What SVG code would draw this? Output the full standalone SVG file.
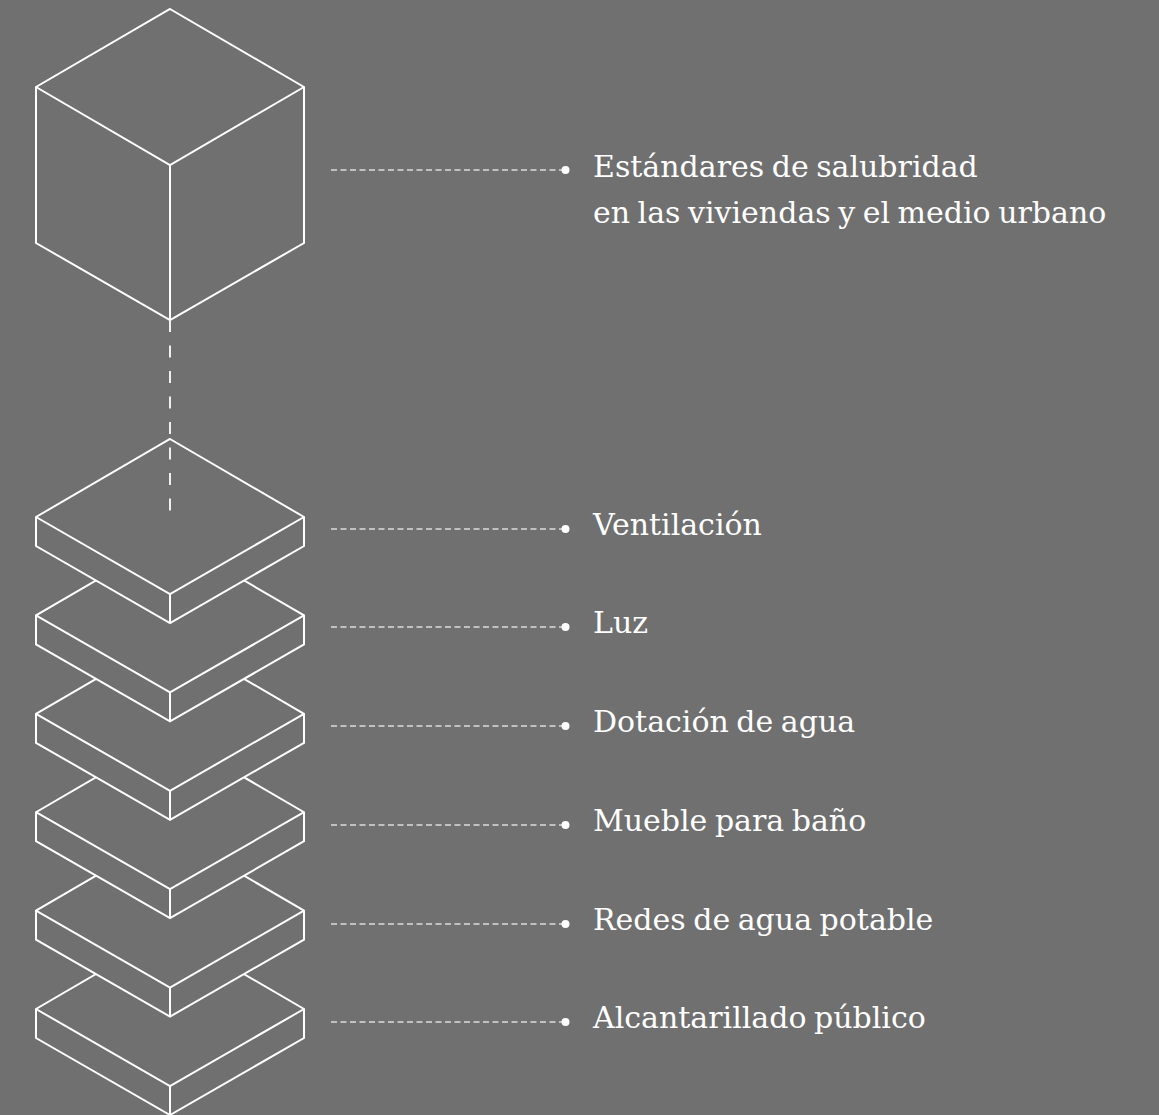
<svg xmlns="http://www.w3.org/2000/svg" width="1159" height="1115" viewBox="0 0 1159 1115">
<style>
.edge{fill:#6f706f;stroke:#ffffff;stroke-width:2;stroke-linejoin:miter}
.ln{fill:none;stroke:#ffffff;stroke-width:2}
.lead{fill:none;stroke:#dcdcdc;stroke-width:1.4;stroke-dasharray:6 3.5}
.vdash{fill:none;stroke:#f0f0f0;stroke-width:2;stroke-dasharray:12 13.5}
.dot{fill:#ffffff}
.lbl{font-family:"DejaVu Serif",serif;font-size:30px;fill:#ffffff;word-spacing:-2px}
</style>
<defs>
<g id="slab">
<polygon class="edge" points="170,-78 304,0 304,29 170,106 36,29 36,0"/>
<polyline class="ln" points="36,0 170,77 304,0"/>
<line class="ln" x1="170" y1="77" x2="170" y2="106"/>
</g>
</defs>
<rect x="0" y="0" width="1159" height="1115" fill="#6f706f"/>
<g id="slabs">
<g id="slab6"><use href="#slab" transform="translate(0,1009)"/></g>
<g id="slab5"><use href="#slab" transform="translate(0,910.6)"/></g>
<g id="slab4"><use href="#slab" transform="translate(0,812.2)"/></g>
<g id="slab3"><use href="#slab" transform="translate(0,713.8)"/></g>
<g id="slab2"><use href="#slab" transform="translate(0,615.4)"/></g>
<g id="slab1"><use href="#slab" transform="translate(0,517)"/></g>
</g>
<g id="cube">
<polygon class="edge" points="170,9 304,87 304,243 170,320 36,243 36,87"/>
<polyline class="ln" points="36,87 170,165 304,87"/>
<line class="ln" x1="170" y1="165" x2="170" y2="320"/>
</g>
<g id="connectors">
<line class="vdash" x1="170" y1="320" x2="170" y2="511"/>
<line class="lead" x1="331" y1="170" x2="562" y2="170"/>
<line class="lead" x1="331" y1="529" x2="562" y2="529"/>
<line class="lead" x1="331" y1="627" x2="562" y2="627"/>
<line class="lead" x1="331" y1="726" x2="562" y2="726"/>
<line class="lead" x1="331" y1="825" x2="562" y2="825"/>
<line class="lead" x1="331" y1="924" x2="562" y2="924"/>
<line class="lead" x1="331" y1="1022" x2="562" y2="1022"/>
<circle class="dot" cx="565.5" cy="170" r="4"/>
<circle class="dot" cx="565.5" cy="529" r="4"/>
<circle class="dot" cx="565.5" cy="627" r="4"/>
<circle class="dot" cx="565.5" cy="726" r="4"/>
<circle class="dot" cx="565.5" cy="825" r="4"/>
<circle class="dot" cx="565.5" cy="924" r="4"/>
<circle class="dot" cx="565.5" cy="1022" r="4"/>
</g>
<g id="labels">
<text class="lbl" x="593" y="177">Estándares de salubridad</text>
<text class="lbl" x="593" y="223">en las viviendas y el medio urbano</text>
<text class="lbl" x="593" y="535">Ventilación</text>
<text class="lbl" x="593" y="633">Luz</text>
<text class="lbl" x="593" y="732">Dotación de agua</text>
<text class="lbl" x="593" y="831">Mueble para baño</text>
<text class="lbl" x="593" y="930">Redes de agua potable</text>
<text class="lbl" x="593" y="1028">Alcantarillado público</text>
</g>
</svg>
